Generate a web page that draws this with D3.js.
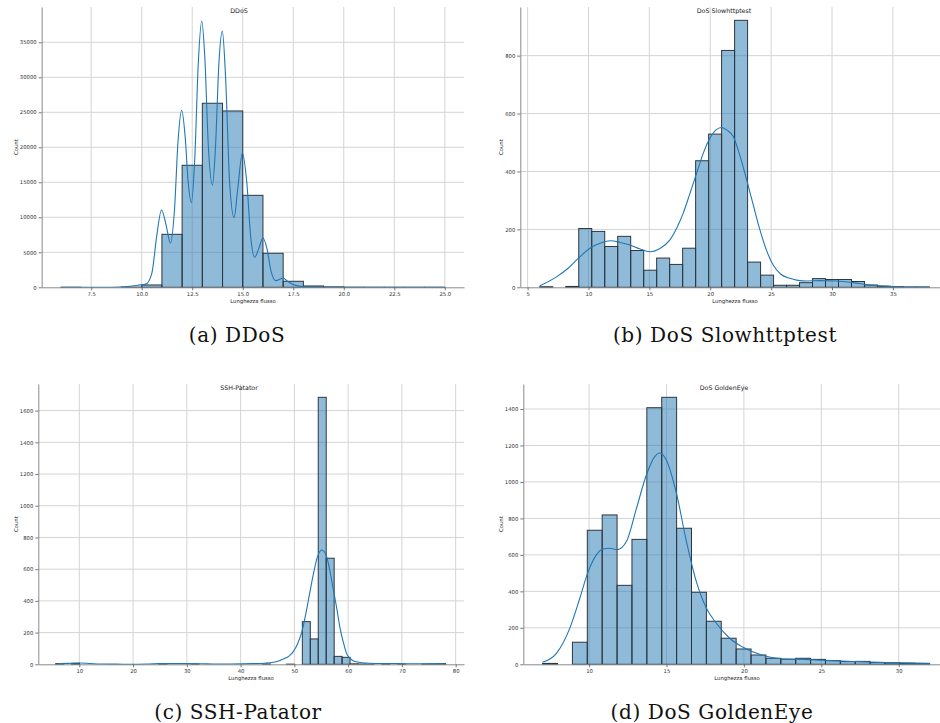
<!DOCTYPE html>
<html>
<head>
<meta charset="utf-8">
<script src="https://cdn.jsdelivr.net/npm/d3@7"></script>
<style>
  body { margin: 0; background: #fff; }
  svg { display: block; }
</style>
</head>
<body>
<div id="chart"></div>
<script>
// ---- data: histogram bins (start, width, counts) + kde points ----
const ddosBinStart = 6, ddosBinWidth = 1;
const ddosCounts = [5, 0, 0, 30, 333, 7570, 17430, 26290, 25190, 13140, 4860, 860, 190, 60, 10, 5, 2, 1, 3];
const ddosKde = [[6.0,0],[8.5,0],[9.3,100],[9.8,300],[10.2,450],[10.5,2000],[10.75,7500],[10.98,11050],[11.2,9000],
  [11.42,6290],[11.62,11000],[11.8,21000],[11.98,25300],[12.15,21500],[12.3,15000],[12.46,12100],[12.62,18000],
  [12.8,32000],[12.97,38050],[13.12,33000],[13.3,20000],[13.5,14600],[13.65,20000],[13.82,32000],[13.99,36600],
  [14.15,30000],[14.35,15000],[14.57,9950],[14.75,14000],[14.98,19150],[15.2,15000],[15.4,7000],[15.59,4290],
  [15.8,5600],[16.0,7050],[16.2,5500],[16.4,2300],[16.63,950],[16.99,1290],[17.3,700],[17.7,200],[18.3,30],[19,0],[25,0]];
const ddosXTicks = [7.5, 10, 12.5, 15, 17.5, 20, 22.5, 25];
const ddosYTicks = [0, 5000, 10000, 15000, 20000, 25000, 30000, 35000];

const slowBinStart = 6, slowBinWidth = 32 / 30;
const slowCounts = [2, 0, 3, 203, 193, 141, 176, 127, 59, 101, 79, 135, 437, 529, 818, 922, 87, 42, 7, 7, 16, 30, 27, 27, 20, 8, 4, 2, 1, 1];
const slowKde = [[6,5],[7.4,37],[8.3,65],[9.16,100],[10.12,135],[11,153],[11.8,161],[12.6,155],[13.4,146],[14.2,133],
  [15.05,123],[15.9,135],[16.69,164],[17.25,205],[17.78,256],[18.3,320],[18.88,394],[19.4,460],[19.97,515],[20.45,543],
  [20.93,552],[21.4,542],[21.89,521],[22.4,460],[22.99,371],[23.5,290],[24.08,198],[24.6,130],[25.17,77],[25.8,45],
  [26.54,31],[27.2,24],[27.91,22],[29,23],[30.38,22],[31.75,16],[33.1,8],[34.76,3],[36.5,1],[38,1]];
const slowXTicks = [5, 10, 15, 20, 25, 30, 35];
const slowYTicks = [0, 200, 400, 600, 800];

const sshBinStart = 5.6, sshBinWidth = 1.48;
const sshCounts = [4,0,6,0,0,0,0,0,0,0, 0,0,0,5,0,0,0,2,0,0, 0,0,0,0,0,0,2,0,0,1,
  0,269,160,1684,669,50,44,3,2,1, 0,1,0,1,0,0,1,2,4];
const sshKde = [[6.1,4],[8,6],[10,8],[12,5],[14,2],[17,1],[20,0],[23,2],[25,4],[28,4],[30,4],[33,3],[35,2],[38,2],
  [42.4,4],[44.5,7],[46.1,13],[47.2,22],[48,34],[49,52],[49.8,80],[50.6,130],[51.4,206],[52.2,330],[52.9,458],
  [53.6,580],[54.3,679],[55.1,721],[56,679],[56.6,590],[57.2,479],[57.9,350],[58.5,227],[59.1,140],[59.7,69],
  [60.3,40],[60.9,23],[62,13],[63.4,8],[66,5],[69.6,4],[73,3],[77.6,4]];
const sshXTicks = [10, 20, 30, 40, 50, 60, 70, 80];
const sshYTicks = [0, 200, 400, 600, 800, 1000, 1200, 1400, 1600];

const goldBinStart = 7, goldBinWidth = 25 / 26;
const goldCounts = [5, 0, 121, 735, 819, 433, 685, 1407, 1464, 746, 395, 236, 143, 84, 51, 33, 28, 33, 27, 20, 15, 16, 10, 8, 6, 4];
const goldKde = [[6.99,11],[7.89,60],[8.75,197],[9.4,362],[9.94,508],[10.47,600],[10.9,632],[11.33,636],[11.83,629],
  [12.41,673],[13.06,855],[13.7,1038],[14.24,1139],[14.56,1159],[14.99,1120],[15.64,938],[16.29,673],[16.93,453],
  [17.58,307],[18.22,225],[19.08,143],[19.95,93],[21.24,48],[22.53,29],[23.82,27],[25.11,22],[27.05,15],[29.2,9],[32,5]];
const goldXTicks = [10, 15, 20, 25, 30];
const goldYTicks = [0, 200, 400, 600, 800, 1000, 1200, 1400];

const titles = ['DDoS', 'DoS Slowhttptest', 'SSH-Patator', 'DoS GoldenEye'];
const captions = ['(a) DDoS', '(b) DoS Slowhttptest', '(c) SSH-Patator', '(d) DoS GoldenEye'];

// ---- layout ----
const W = 940, H = 723;
const svg = d3.select('#chart').append('svg').attr('width', W).attr('height', H);

const panels = [
  { title: titles[0], caption: captions[0], counts: ddosCounts, binStart: ddosBinStart, binWidth: ddosBinWidth, kde: ddosKde,
    xTicks: ddosXTicks, yTicks: ddosYTicks, xFmt: d3.format('.1f'),
    xDomain: [5.05, 25.95], yMax: 40040, left: 41.7, right: 464, top: 7, bottom: 287.3,
    titleX: 239, xlabX: 253, ylabX: 17.5, capX: 237, capY: 342 },
  { title: titles[1], caption: captions[1], counts: slowCounts, binStart: slowBinStart, binWidth: slowBinWidth, kde: slowKde,
    xTicks: slowXTicks, yTicks: slowYTicks, xFmt: d3.format('d'),
    xDomain: [4.4, 39.6], yMax: 968, left: 520.3, right: 948.9, top: 7, bottom: 287.3,
    titleX: 724, xlabX: 735, ylabX: 503, capX: 725, capY: 342 },
  { title: titles[2], caption: captions[2], counts: sshCounts, binStart: sshBinStart, binWidth: sshBinWidth, kde: sshKde,
    xTicks: sshXTicks, yTicks: sshYTicks, xFmt: d3.format('d'),
    xDomain: [2.37, 81.55], yMax: 1768, left: 38.3, right: 464, top: 384, bottom: 664.3,
    titleX: 239, xlabX: 251, ylabX: 17.5, capX: 238, capY: 719 },
  { title: titles[3], caption: captions[3], counts: goldCounts, binStart: goldBinStart, binWidth: goldBinWidth, kde: goldKde,
    xTicks: goldXTicks, yTicks: goldYTicks, xFmt: d3.format('d'),
    xDomain: [5.75, 33.25], yMax: 1537, left: 523.3, right: 949, top: 384, bottom: 664.3,
    titleX: 724, xlabX: 737, ylabX: 503, capX: 712, capY: 719 }
];

const sans = '"DejaVu Sans", sans-serif';

function drawPanel(p) {
  const x = d3.scaleLinear().domain(p.xDomain).range([p.left, p.right]);
  const y = d3.scaleLinear().domain([0, p.yMax]).range([p.bottom, p.top]);
  const g = svg.append('g');

  // grid
  g.append('g').selectAll('line').data(p.xTicks).join('line')
    .attr('x1', d => x(d)).attr('x2', d => x(d))
    .attr('y1', p.top).attr('y2', p.bottom)
    .attr('stroke', '#d4d4d4').attr('stroke-width', 1);
  g.append('g').selectAll('line').data(p.yTicks.filter(d => d > 0)).join('line')
    .attr('x1', p.left).attr('x2', p.right)
    .attr('y1', d => y(d)).attr('y2', d => y(d))
    .attr('stroke', '#d4d4d4').attr('stroke-width', 1);

  // bars
  const bins = p.counts.map((c, i) => ({ x0: p.binStart + i * p.binWidth, x1: p.binStart + (i + 1) * p.binWidth, c }));
  g.append('g').selectAll('rect').data(bins).join('rect')
    .attr('x', d => x(d.x0))
    .attr('width', d => x(d.x1) - x(d.x0))
    .attr('y', d => y(d.c))
    .attr('height', d => y(0) - y(d.c))
    .attr('fill', '#1f77b4').attr('fill-opacity', 0.5)
    .attr('stroke', '#2c3640').attr('stroke-width', 1);

  // kde
  const line = d3.line().x(d => x(d[0])).y(d => y(d[1])).curve(d3.curveMonotoneX);
  g.append('path').datum(p.kde)
    .attr('d', line)
    .attr('fill', 'none')
    .attr('stroke', '#1f77b4').attr('stroke-width', 1.1);

  // axes
  const ax = g.append('g').attr('transform', `translate(0,${p.bottom})`)
    .call(d3.axisBottom(x).tickValues(p.xTicks).tickFormat(p.xFmt).tickSize(3).tickSizeOuter(0).tickPadding(2));
  const ay = g.append('g').attr('transform', `translate(${p.left},0)`)
    .call(d3.axisLeft(y).tickValues(p.yTicks).tickFormat(d3.format('d')).tickSize(3).tickSizeOuter(0).tickPadding(2));
  [ax, ay].forEach(a => {
    a.select('.domain').attr('stroke', '#8a8a8a').attr('stroke-width', 1);
    a.selectAll('.tick line').attr('stroke', '#555').attr('stroke-width', 0.8);
    a.selectAll('.tick text').attr('font-family', sans).attr('font-size', 5.3).attr('fill', '#333');
  });

  // title and labels
  g.append('text').attr('x', p.titleX).attr('y', p.top + 5.5)
    .attr('text-anchor', 'middle').attr('font-family', sans).attr('font-size', 6.3).attr('fill', '#222')
    .text(p.title);
  g.append('text').attr('x', p.xlabX).attr('y', p.bottom + 15.8)
    .attr('text-anchor', 'middle').attr('font-family', sans).attr('font-size', 5.3).attr('fill', '#222')
    .text('Lunghezza flusso');
  g.append('text')
    .attr('transform', `translate(${p.ylabX},${(p.top + p.bottom) / 2}) rotate(-90)`)
    .attr('text-anchor', 'middle').attr('font-family', sans).attr('font-size', 5.3).attr('fill', '#222')
    .text('Count');

  // caption
  svg.append('text').attr('x', p.capX).attr('y', p.capY)
    .attr('text-anchor', 'middle')
    .attr('font-family', '"DejaVu Serif", serif').attr('font-size', 20)
    .attr('letter-spacing', 0.6).attr('fill', '#111')
    .text(p.caption);
}

panels.forEach(drawPanel);
</script>
</body>
</html>
